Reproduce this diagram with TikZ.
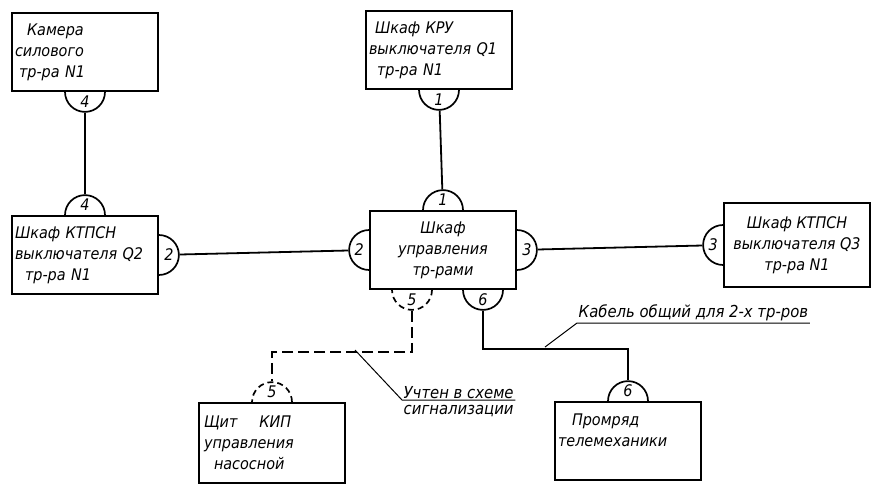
\documentclass[tikz,border=0pt]{standalone}
\usepackage{fontspec}
\setmainfont{DejaVu Sans Condensed}
\usetikzlibrary{positioning,backgrounds}

\tikzset{
  unit/.style={
    draw,
    line width=1.8pt,
    fill=white,
    minimum width=146pt,
    minimum height=78pt,
    inner sep=3pt,
    font=\fontsize{16}{21}\selectfont\itshape,
  },
  port/.style={
    draw,
    circle,
    line width=1.7pt,
    fill=white,
    minimum size=40pt,
    inner sep=0pt,
  },
  spare port/.style={port, dash pattern=on 6pt off 4pt},
  portnum/.style={inner sep=0pt, font=\fontsize{16}{16}\selectfont\itshape},
  cable/.style={line width=1.8pt},
  spare cable/.style={cable, dash pattern=on 11pt off 5pt},
  leader/.style={line width=1pt},
  note/.style={inner sep=1.5pt, font=\fontsize{16.5}{18}\selectfont\itshape},
}

\begin{document}
\begin{tikzpicture}[x=1pt, y=-1pt]
  \useasboundingbox (0,0) rectangle (882,495);

  % cabinets
  \node[unit, text width=140pt, align=left] (cam) at (85,52)
    {\hspace*{12pt}Камера\\силового\\\hspace*{4pt}тр-ра N1};
  \node[unit, text width=140pt, align=left] (kru) at (439,50)
    {\hspace*{6pt}Шкаф КРУ\\выключателя Q1\\\hspace*{8pt}тр-ра N1};
  \node[unit, text width=140pt, align=left] (q2) at (85,255)
    {Шкаф КТПСН\\выключателя Q2\\\hspace*{10pt}тр-ра N1};
  \node[unit, align=center] (ctl) at (443,250)
    {Шкаф\\управления\\тр-рами};
  \node[unit, minimum height=84pt, align=center] (q3) at (797,245)
    {Шкаф КТПСН\\выключателя Q3\\тр-ра N1};
  \node[unit, minimum height=80pt, text width=136pt, align=left] (kip) at (272,443)
    {Щит\hspace{22pt}КИП\\управления\\\hspace*{10pt}насосной};
  \node[unit, text width=140pt, align=left] (tm) at (628,441)
    {\hspace*{14pt}Промряд\\телемеханики\\\mbox{}};

  % connection points
  \begin{scope}[on background layer]
    \node[port] (cam4) at (cam.south) {};
    \node[port] (kru1) at (kru.south) {};
    \node[port] (q24) at (q2.north) {};
    \node[port] (q22) at (q2.east) {};
    \node[port] (ctl1) at (ctl.north) {};
    \node[port] (ctl2) at (ctl.west) {};
    \node[port] (ctl3) at (ctl.east) {};
    \node[spare port] (ctl5) at ([xshift=-31pt]ctl.south) {};
    \node[port] (ctl6) at ([xshift=40pt]ctl.south) {};
    \node[port] (q33) at (q3.west) {};
    \node[spare port] (kip5) at (kip.north) {};
    \node[port] (tm6) at (tm.north) {};
  \end{scope}

  \node[portnum] (cam4n) at ([yshift=-10pt]cam4.center) {4};
  \node[portnum] (kru1n) at ([yshift=-10pt]kru1.center) {1};
  \node[portnum] (q24n) at ([yshift=10pt]q24.center) {4};
  \node[portnum] (q22n) at ([xshift=10pt]q22.center) {2};
  \node[portnum] (ctl1n) at ([yshift=10pt]ctl1.center) {1};
  \node[portnum] (ctl2n) at ([xshift=-10pt]ctl2.center) {2};
  \node[portnum] (ctl3n) at ([xshift=10pt]ctl3.center) {3};
  \node[portnum] (ctl5n) at ([yshift=-10pt]ctl5.center) {5};
  \node[portnum] (ctl6n) at ([yshift=-10pt]ctl6.center) {6};
  \node[portnum] (q33n) at ([xshift=-10pt]q33.center) {3};
  \node[portnum] (kip5n) at ([yshift=10pt]kip5.center) {5};
  \node[portnum] (tm6n) at ([yshift=10pt]tm6.center) {6};

  % cables
  \draw[cable] (cam4) -- (q24);
  \draw[cable] (kru1) -- (ctl1);
  \draw[cable] (q22) -- (ctl2);
  \draw[cable] (ctl3) -- (q33);
  \draw[spare cable] (ctl5.south) -- ++(0,41) -| (kip5.north);
  \draw[cable] (ctl6.south) -- ++(0,38) -| (tm6.north);

  % notes
  \coordinate (k5) at (355,350);
  \coordinate (k6) at (545,347);
  \node[note, anchor=south west] (sig1) at (402,400) {Учтен в схеме};
  \node[note, anchor=north west, yshift=-4pt] (sig2) at (sig1.south west) {сигнализации};
  \draw[leader] (k5) -- (sig1.south west) -- (sig1.south east);
  \node[note, anchor=south west] (cab) at (577,323) {Кабель общий для 2-х тр-ров};
  \draw[leader] (k6) -- (cab.south west) -- (cab.south east);
\end{tikzpicture}
\end{document}
